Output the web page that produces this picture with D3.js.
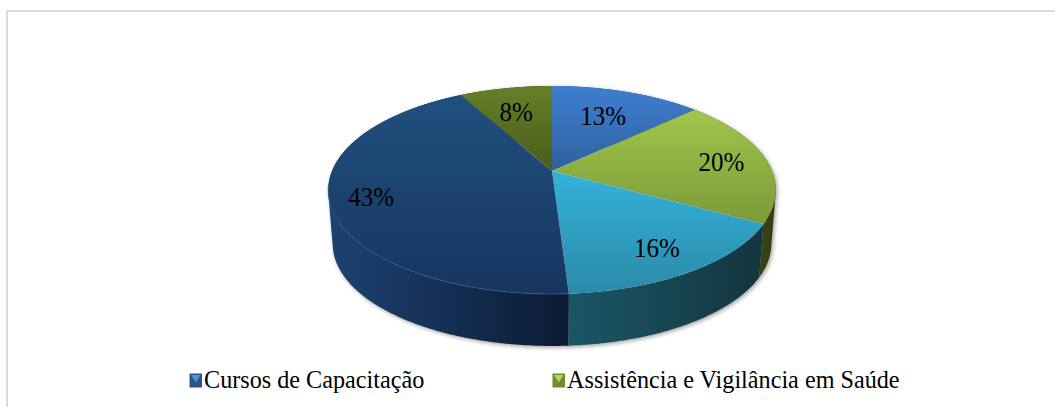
<!DOCTYPE html>
<html><head><meta charset="utf-8">
<script src="https://cdnjs.cloudflare.com/ajax/libs/d3/7.8.5/d3.min.js"></script>
<style>html,body{margin:0;padding:0;background:#fff}svg{display:block}</style></head>
<body><svg id="c" width="1055" height="407"></svg>
<script>
const sliceNames = ["Treinamentos","Assistência e Vigilância em Saúde","Eventos","Cursos de Capacitação","Outros"];
const sliceValues = [13, 20, 16, 43, 8];
const sliceLabels = ["13%","20%","16%","43%","8%"];
const legendNames = ["Cursos de Capacitação","Assistência e Vigilância em Saúde"];
const legendEdge = ["#2b5488","#6f8c30"];
const legendGlow = ["#4f93dc","#b4d85a"];
const topLight = ["#3f7fd0","#a0c64c","#35b2da","#20507f","#64802a"];
const topDark  = ["#2f609f","#7a9a38","#2a8aa8","#17355f","#4a5c1a"];
const wallLight = ["#2a4f80","#4a5a20","#1a5666","#1c4272","#3a4a16"];
const wallDark  = ["#1c3558","#333d12","#13353f","#0c1b33","#2d3a10"];
const labelRadius = [0.65,0.79,0.783,0.82,0.743];
const labelShift = [-1.4,0,1,1.5,4.7];

const W=1055,H=407, cx=552, kx=220, apexY=171, a=69.3, c=-0.1827;
const depth=54, taper=0.98, taperY=190;
const svg=d3.select("#c");
const defs=svg.append("defs");
const f=defs.append("filter").attr("id","blur").attr("x","-10%").attr("y","-10%").attr("width","120%").attr("height","120%");
f.append("feGaussianBlur").attr("stdDeviation",2);

// frame
svg.append("rect").attr("x",6).attr("y",10).attr("width",W-6).attr("height",2).attr("fill","#dcdcdc");
svg.append("rect").attr("x",6).attr("y",10).attr("width",2).attr("height",H-10).attr("fill","#dcdcdc");

const pie=d3.pie().sort(null).value(d=>d);
const arcs=pie(sliceValues);

function proj(ang,r){
  const u=r*Math.sin(ang), v=-r*Math.cos(ang), den=1+c*v;
  return [cx+kx*u/den,(a*v+apexY)/den];
}
function low(p){ return [cx+(p[0]-cx)*taper, taperY+(p[1]-taperY)*taper+depth]; }
const samples=(s,e,n=60)=>d3.range(0,n+1).map(i=>s+(e-s)*i/n);
const line=d3.line();

function wallPath(s,e,n){
  const ts=samples(s,e,n);
  let out="";
  for(let i=0;i<n;i++){
    const p1=proj(ts[i],1),p2=proj(ts[i+1],1),p3=low(p2),p4=low(p1);
    let q=[p1,p2,p3,p4];
    if(d3.polygonArea(q)<0) q=q.reverse();
    out+=line(q)+"Z";
  }
  return out;
}

// soft shadow under body
const sil=wallPath(0,2*Math.PI,240);
svg.append("path").attr("d",sil).attr("transform","translate(1.5,1.5)").attr("fill","#777").attr("opacity",.7).attr("filter","url(#blur)");

function grad(id,c1,c2,horizontal){
  const g=defs.append("linearGradient").attr("id",id);
  if(horizontal) g.attr("x1",0).attr("x2",1).attr("y1",0).attr("y2",0);
  else g.attr("x1",0).attr("x2",0).attr("y1",0).attr("y2",1);
  g.append("stop").attr("offset",0).attr("stop-color",c1);
  g.append("stop").attr("offset",1).attr("stop-color",c2);
}
arcs.forEach((d,i)=>{grad("t"+i,topLight[i],topDark[i],false);grad("w"+i,wallLight[i],wallDark[i],true);});

// walls, back to front
const order=arcs.map((d,i)=>i).sort((p,q)=>{
  const m=d=>-Math.cos((d.startAngle+d.endAngle)/2);
  return m(arcs[p])-m(arcs[q]);
});
svg.append("g").selectAll("path").data(order).join("path")
  .attr("d",i=>wallPath(arcs[i].startAngle,arcs[i].endAngle,Math.max(40,Math.round(sliceValues[i]*5))))
  .attr("fill",i=>`url(#w${i})`);

// top faces
svg.append("g").selectAll("path").data(arcs).join("path")
  .attr("d",d=>{
    const pts=[proj(0,0)].concat(samples(d.startAngle,d.endAngle).map(t=>proj(t,1)));
    return line(pts)+"Z";
  })
  .attr("fill",(d,i)=>`url(#t${i})`);

// bevel highlight on the front rim of the largest slice
const big=arcs[3];
svg.append("path")
  .attr("d",line(samples(big.startAngle,big.startAngle+(big.endAngle-big.startAngle)*0.55).map(t=>proj(t,1))))
  .attr("fill","none").attr("stroke","#2d5c94").attr("stroke-width",1).attr("opacity",.8);

// labels (the source picture is slightly stretched vertically)
svg.append("g").selectAll("text").data(arcs).join("text")
  .attr("transform",(d,i)=>{
    const p=proj((d.startAngle+d.endAngle)/2,labelRadius[i]);
    return `translate(${p[0]},${p[1]+labelShift[i]+9.5}) scale(1,1.12)`;
  })
  .attr("text-anchor","middle")
  .attr("font-family","'Liberation Serif',serif").attr("font-size",25).attr("fill","#000")
  .text((d,i)=>sliceLabels[i]);

// legend
const legendX=d3.scalePoint().domain(legendNames).range([189.5,552.5]);
const lg=svg.append("g").selectAll("g").data(legendNames).join("g")
  .attr("transform",d=>`translate(${legendX(d)},373.5)`);
lg.append("rect").attr("width",12.5).attr("height",14).attr("fill",(d,i)=>legendEdge[i]);
lg.append("path").attr("d",line([[1.5,1.5],[11,1.5],[6.25,9]])+"Z").attr("fill",(d,i)=>legendGlow[i]);
lg.append("text").attr("x",14.5).attr("y",14)
  .attr("font-family","'Liberation Serif',serif").attr("font-size",24.2).attr("fill","#000")
  .text(d=>d);
</script></body></html>
